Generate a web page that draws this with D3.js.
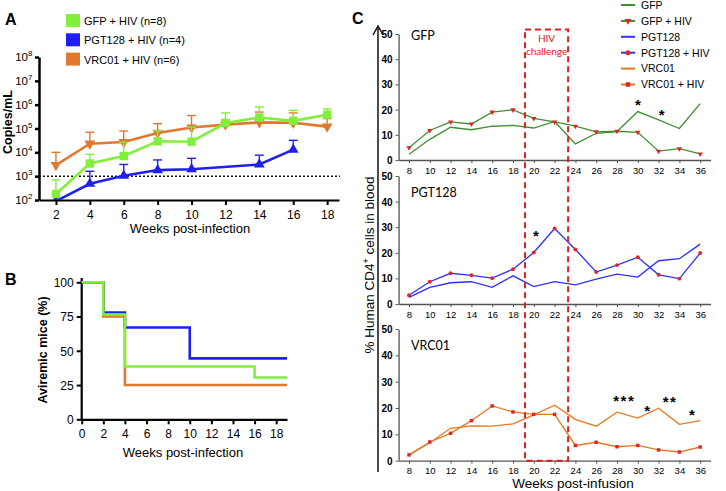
<!DOCTYPE html>
<html>
<head>
<style>
body { margin: 0; background: #fff; }
svg { font-family: "Liberation Sans", Arial, sans-serif; }
</style>
</head>
<body>
<svg id="fig" width="726" height="491"></svg>
<script src="https://d3js.org/d3.v7.min.js"></script>
<script>
// ---------- panel A: viral load ----------
const weeksA = [2, 4, 6, 8, 10, 12, 14, 16, 18];
const gfpA = [180, 3400, 7000, 29000, 28000, 170000, 290000, 210000, 380000];
const gfpAErr = [700, 8300, 27000, 80000, 115000, 450000, 800000, 580000, 660000];
const vrcA = [2900, 23000, 27000, 65000, 110000, 145000, 180000, 175000, 120000];
const vrcAErr = [10000, 70000, 78000, 160000, 350000, 230000, 490000, 450000, 260000];
const weeksPgtA = [2, 4, 6, 8, 10, 14, 16];
const pgtA = [90, 480, 1050, 1800, 1950, 3100, 13000];
const pgtAErr = [null, 1600, 3100, 4800, 5600, 7600, 32000];
const legendA = ["GFP + HIV (n=8)", "PGT128 + HIV (n=4)", "VRC01 + HIV (n=6)"];
const yTicksA = [2, 3, 4, 5, 6, 7, 8];
const xTicksA = [2, 4, 6, 8, 10, 12, 14, 16, 18];

// ---------- panel B: aviremic mice ----------
const kmGfp = [[0, 100], [2, 76.5], [4, 38.5], [16, 30.5], [19, 30.5]];
const kmPgt = [[0, 100], [2, 78], [4, 67], [10, 44.5], [19, 44.5]];
const kmVrc = [[0, 100], [2, 75], [4, 25], [19, 25]];
const yTicksB = [0, 25, 50, 75, 100];
const xTicksB = [0, 2, 4, 6, 8, 10, 12, 14, 16, 18];

// ---------- panel C: human CD4+ cells ----------
const weeksC = [8, 10, 12, 14, 16, 18, 20, 22, 24, 26, 28, 30, 32, 34, 36];
const gfpC = [2.3, 8.2, 13.0, 12.0, 13.4, 13.7, 12.7, 15.3, 6.4, 10.6, 11.3, 19.2, 15.9, 12.5, 22.4];
const gfpHivC = [4.9, 11.7, 15.1, 14.3, 19.0, 19.9, 16.5, 15.1, 13.4, 11.2, 11.4, 11.0, 3.5, 4.5, 2.4];
const pgtC = [2.6, 6.5, 8.3, 8.7, 6.5, 11.0, 6.8, 8.7, 7.5, 9.7, 11.7, 10.5, 16.9, 17.7, 23.4];
const pgtHivC = [3.4, 8.7, 12.0, 11.2, 10.1, 13.6, 20.1, 29.5, 21.3, 12.5, 15.2, 18.3, 11.4, 9.9, 19.9];
const vrcC = [2.2, 6.8, 12.3, 13.2, 13.1, 14.0, 17.4, 21.1, 15.7, 13.1, 18.4, 16.2, 19.9, 13.8, 15.2];
const vrcHivC = [2.2, 7.1, 10.4, 15.2, 20.8, 18.5, 17.6, 17.6, 5.8, 7.0, 5.3, 5.8, 4.1, 3.3, 5.2];
const yTicksC = [0, 10, 20, 30, 40, 50];
const xTicksC = [8, 10, 12, 14, 16, 18, 20, 22, 24, 26, 28, 30, 32, 34, 36];
const challengeWeeks = [19.15, 23.3];
const legendC = ["GFP", "GFP + HIV", "PGT128", "PGT128 + HIV", "VRC01", "VRC01 + HIV"];
const subNames = ["GFP", "PGT128", "VRC01"];
const starsC = [
  {panel: 0, week: 30, v: 23.2, t: "*"},
  {panel: 0, week: 32.3, v: 19.2, t: "*"},
  {panel: 1, week: 20.2, v: 27.8, t: "*"},
  {panel: 2, week: 28.7, v: 23.7, t: "***"},
  {panel: 2, week: 30.9, v: 19.9, t: "*"},
  {panel: 2, week: 33.1, v: 23.3, t: "**"},
  {panel: 2, week: 35.2, v: 18.4, t: "*"}
];

const limeCol = "#80f03a", blueCol = "#1f1ff0", orangeCol = "#e0782f";
const greenC = "#3f8f30", blueC = "#2f2fff", orangeC = "#e8771f", redM = "#e02525";

const svg = d3.select("#fig");

function panelLabel(t, x, y) {
  svg.append("text").attr("x", x).attr("y", y).attr("font-size", 16)
    .attr("font-weight", "bold").text(t);
}

// ===================== A =====================
panelLabel("A", 5, 25);
const xA = d3.scaleLinear().domain([1, 18.7]).range([39, 339]);
const yA = d3.scaleLog().domain([1e2, 1e8]).range([200, 57]);
const gA = svg.append("g");

gA.append("clipPath").attr("id", "clipA").append("rect")
  .attr("x", 39).attr("y", 40).attr("width", 310).attr("height", 160);

const axA = gA.append("g").attr("transform", "translate(0,200)")
  .call(d3.axisBottom(xA).tickValues(xTicksA).tickSize(5).tickSizeOuter(0));
axA.select(".domain").attr("stroke-width", 2.2);
axA.selectAll(".tick line").attr("stroke-width", 2);
axA.selectAll("text").attr("font-size", 12).attr("dy", "0.9em");

const ayA = gA.append("g").attr("transform", "translate(39,0)")
  .call(d3.axisLeft(yA).tickValues(yTicksA.map(p => Math.pow(10, p))).tickFormat("").tickSize(4).tickSizeOuter(0));
ayA.select(".domain").attr("stroke-width", 2.5);
ayA.selectAll(".tick line").attr("stroke-width", 2.5);
yTicksA.forEach(p => {
  gA.append("text").attr("x", 28).attr("y", yA(Math.pow(10, p)) + 4)
    .attr("text-anchor", "end").attr("font-size", 11.5).text("10");
  gA.append("text").attr("x", 28).attr("y", yA(Math.pow(10, p)) - 1)
    .attr("font-size", 8).text(p);
});

gA.append("line").attr("x1", 39).attr("x2", 340)
  .attr("y1", yA(1e3)).attr("y2", yA(1e3))
  .attr("stroke", "#111").attr("stroke-width", 1.5).attr("stroke-dasharray", "2,2");

function seriesA(weeks, vals, errs, col, marker) {
  const g = gA.append("g").attr("clip-path", "url(#clipA)");
  weeks.forEach((w, i) => {
    if (errs[i] == null) return;
    g.append("line").attr("x1", xA(w)).attr("x2", xA(w))
      .attr("y1", yA(Math.max(vals[i], 100))).attr("y2", yA(errs[i]))
      .attr("stroke", col).attr("stroke-width", 1.4);
    g.append("line").attr("x1", xA(w) - 4.5).attr("x2", xA(w) + 4.5)
      .attr("y1", yA(errs[i])).attr("y2", yA(errs[i]))
      .attr("stroke", col).attr("stroke-width", 1.4);
  });
  const pts = weeks.map((w, i) => [w, vals[i]]);
  g.append("path").datum(pts)
    .attr("d", d3.line().x(d => xA(d[0])).y(d => yA(d[1])))
    .attr("fill", "none").attr("stroke", col).attr("stroke-width", 2.6);
  g.selectAll(null).data(pts).enter().append("path")
    .attr("transform", d => `translate(${xA(d[0])},${yA(d[1])})` + (marker === "down" ? " rotate(180)" : ""))
    .attr("d", marker === "square" ? d3.symbol(d3.symbolSquare, 70)() : d3.symbol(d3.symbolTriangle, 50)())
    .attr("fill", col);
}
seriesA(weeksA, vrcA, vrcAErr, orangeCol, "down");
seriesA(weeksPgtA, pgtA, pgtAErr, blueCol, "up");
seriesA(weeksA, gfpA, gfpAErr, limeCol, "square");

gA.append("text").attr("transform", "translate(12,122) rotate(-90)")
  .attr("text-anchor", "middle").attr("font-size", 12.5).attr("font-weight", "bold").text("Copies/mL");
gA.append("text").attr("x", 190).attr("y", 233).attr("text-anchor", "middle")
  .attr("font-size", 13).text("Weeks post-infection");

[limeCol, blueCol, orangeCol].forEach((c, i) => {
  const yy = 14 + i * 19.3;
  gA.append("rect").attr("x", 66).attr("y", yy).attr("width", 14).attr("height", 13).attr("fill", c);
  gA.append("text").attr("x", 84).attr("y", yy + 11).attr("font-size", 11).text(legendA[i]);
});

// ===================== B =====================
panelLabel("B", 5, 285);
const xB = d3.scaleLinear().domain([0, 19]).range([81.7, 287]);
const yB = d3.scaleLinear().domain([0, 100]).range([419.3, 282.3]);
const gB = svg.append("g");
const axB = gB.append("g").attr("transform", "translate(0,419.3)")
  .call(d3.axisBottom(xB).tickValues(xTicksB).tickSize(5).tickSizeOuter(0));
axB.select(".domain").attr("stroke-width", 2.2);
axB.selectAll(".tick line").attr("stroke-width", 2);
axB.selectAll("text").attr("font-size", 12).attr("dy", "0.9em");
const ayB = gB.append("g").attr("transform", "translate(81.7,0)")
  .call(d3.axisLeft(yB).tickValues(yTicksB).tickSize(5).tickSizeOuter(0));
ayB.select(".domain").attr("stroke-width", 2.2).attr("d", "M0,419.3V278");
ayB.selectAll(".tick line").attr("stroke-width", 2);
ayB.selectAll("text").attr("font-size", 12).attr("dy", "0.35em");

const stepLine = d3.line().curve(d3.curveStepAfter).x(d => xB(d[0])).y(d => yB(d[1]));
[[kmVrc, orangeCol], [kmPgt, blueCol], [kmGfp, limeCol]].forEach(([d, c]) => {
  gB.append("path").datum(d).attr("d", stepLine).attr("fill", "none")
    .attr("stroke", c).attr("stroke-width", 2.6);
});
gB.append("text").attr("transform", "translate(47,350) rotate(-90)")
  .attr("text-anchor", "middle").attr("font-size", 12.5).attr("font-weight", "bold").text("Aviremic mice (%)");
gB.append("text").attr("x", 183).attr("y", 457).attr("text-anchor", "middle")
  .attr("font-size", 13).text("Weeks post-infection");

// ===================== C =====================
panelLabel("C", 352, 24);
const gC = svg.append("g");
const xC = d3.scaleLinear().domain([7, 37]).range([398.6, 710.6]);
const yCs = [
  d3.scaleLinear().domain([0, 50]).range([160, 34]),
  d3.scaleLinear().domain([0, 50]).range([304, 176]),
  d3.scaleLinear().domain([0, 50]).range([460.7, 329])
];
const nameOffset = [6, 21, 21];
const subData = [
  [gfpC, gfpHivC, greenC, "triangle"],
  [pgtC, pgtHivC, blueC, "circle"],
  [vrcC, vrcHivC, orangeC, "square"]
];

// big arrow axis
gC.append("line").attr("x1", 378).attr("x2", 378).attr("y1", 27).attr("y2", 472)
  .attr("stroke", "#111").attr("stroke-width", 1.5);
gC.append("path").attr("d", "M373,35 L378,26 L383,35").attr("fill", "none")
  .attr("stroke", "#111").attr("stroke-width", 1.5);
gC.append("text").attr("transform", "translate(374,265) rotate(-90)")
  .attr("text-anchor", "middle").attr("font-size", 13.5)
  .html('% Human CD4<tspan dy="-5" font-size="9">+</tspan><tspan dy="5"> cells in blood</tspan>');

function marker(type) {
  if (type === "circle") return d3.symbol(d3.symbolCircle, 12)();
  if (type === "square") return d3.symbol(d3.symbolSquare, 12)();
  return d3.symbol(d3.symbolTriangle, 12)();
}

yCs.forEach((yC, k) => {
  const g = gC.append("g");
  const y0 = yC.range()[0];
  const ax = g.append("g").attr("transform", `translate(0,${y0})`)
    .call(d3.axisBottom(xC).tickValues(xTicksC).tickSize(3).tickSizeOuter(0));
  ax.select(".domain").attr("stroke", "#555").attr("stroke-width", 1.3);
  ax.selectAll(".tick line").attr("stroke", "#555");
  ax.selectAll("text").attr("font-size", 9.5).attr("dy", "0.8em");
  const ay = g.append("g").attr("transform", "translate(398.6,0)")
    .call(d3.axisLeft(yC).tickValues(yTicksC).tickSize(3).tickSizeOuter(0));
  ay.select(".domain").attr("stroke", "#555").attr("stroke-width", 1.3);
  ay.selectAll(".tick line").attr("stroke", "#555");
  ay.selectAll("text").attr("font-size", 10).attr("font-weight", "bold").attr("dy", "0.35em");
  g.append("text").attr("x", 411).attr("y", yC(50) + nameOffset[k])
    .attr("font-family", "Lato, 'Open Sans', sans-serif")
    .attr("font-size", 12.5).text(subNames[k]);

  const [base, hiv, col, mk] = subData[k];
  const line = d3.line().x((d, i) => xC(weeksC[i])).y(d => yC(d));
  g.append("path").datum(base).attr("d", line).attr("fill", "none")
    .attr("stroke", col).attr("stroke-width", 1.3);
  g.append("path").datum(hiv).attr("d", line).attr("fill", "none")
    .attr("stroke", col).attr("stroke-width", 1.3);
  g.selectAll(null).data(hiv).enter().append("path")
    .attr("transform", (d, i) => `translate(${xC(weeksC[i])},${yC(d)})` + (mk === "triangle" ? " rotate(180)" : ""))
    .attr("d", marker(mk)).attr("fill", redM);
});

starsC.forEach(s => {
  gC.append("text").attr("x", xC(s.week)).attr("y", yCs[s.panel](s.v) + 8)
    .attr("text-anchor", "middle").attr("font-size", 15).attr("font-weight", "bold")
    .attr("letter-spacing", s.t.length > 1 ? 1.5 : 0).text(s.t);
});

// HIV challenge box
gC.append("rect").attr("x", xC(challengeWeeks[0])).attr("y", 29.5)
  .attr("width", xC(challengeWeeks[1]) - xC(challengeWeeks[0]))
  .attr("height", yCs[2](0) - 29.5)
  .attr("fill", "none").attr("stroke", "#dd2020").attr("stroke-width", 2)
  .attr("stroke-dasharray", "6,4");
const cx = (xC(challengeWeeks[0]) + xC(challengeWeeks[1])) / 2;
gC.append("text").attr("x", cx).attr("y", 42).attr("text-anchor", "middle")
  .attr("font-family", "Lato, 'Open Sans', sans-serif").attr("font-size", 10).attr("fill", "#dd2020").text("HIV");
gC.append("text").attr("x", cx).attr("y", 55).attr("text-anchor", "middle")
  .attr("font-family", "Lato, 'Open Sans', sans-serif").attr("font-size", 10).attr("fill", "#dd2020").text("challenge");

gC.append("text").attr("x", 573).attr("y", 488).attr("text-anchor", "middle")
  .attr("font-size", 13.5).text("Weeks post-infusion");

// legend C
const legCols = [greenC, greenC, blueC, blueC, orangeC, orangeC];
const legMk = [null, "triangle", null, "circle", null, "square"];
legendC.forEach((t, i) => {
  const yy = 5 + i * 15.9;
  gC.append("line").attr("x1", 621).attr("x2", 635).attr("y1", yy).attr("y2", yy)
    .attr("stroke", legCols[i]).attr("stroke-width", 2);
  if (legMk[i]) {
    gC.append("path").attr("transform", `translate(628,${yy})` + (legMk[i] === "triangle" ? " rotate(180)" : ""))
      .attr("d", d3.symbol(legMk[i] === "circle" ? d3.symbolCircle : legMk[i] === "square" ? d3.symbolSquare : d3.symbolTriangle, 20)())
      .attr("fill", redM);
  }
  gC.append("text").attr("x", 641).attr("y", yy + 3.8).attr("font-size", 10.5).text(t);
});
</script>
</body>
</html>
